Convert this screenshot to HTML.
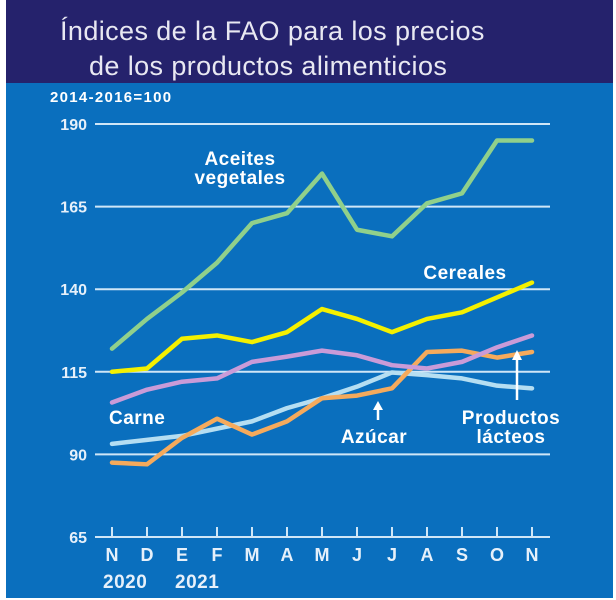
<!DOCTYPE html>
<html><head><meta charset="utf-8"><style>
body{margin:0;background:#fff;}
svg{display:block;font-family:"Liberation Sans",sans-serif;}
</style></head><body>
<svg width="616" height="600" viewBox="0 0 616 600">
<rect x="6" y="0" width="607" height="83" fill="#25226c"/>
<rect x="6" y="83" width="607" height="515" fill="#0a6fbe"/>
<text x="60" y="40" fill="#e8e8f2" font-size="27" letter-spacing="0.4">Índices de la FAO para los precios</text>
<text x="89" y="75" fill="#e8e8f2" font-size="27" letter-spacing="0.4">de los productos alimenticios</text>
<text x="50" y="102" fill="#fff" font-size="15" font-weight="bold" letter-spacing="1.3">2014-2016=100</text>
<g id="grid"></g><g id="lines"></g>
<g fill="#fff" font-size="19" font-weight="bold" letter-spacing="0.5">
<text x="240" y="165" text-anchor="middle">Aceites</text>
<text x="240" y="184" text-anchor="middle">vegetales</text>
<text x="465" y="279" text-anchor="middle">Cereales</text>
<text x="109" y="424">Carne</text>
<text x="374" y="443" text-anchor="middle">Azúcar</text>
<text x="511" y="424" text-anchor="middle">Productos</text>
<text x="511" y="443" text-anchor="middle">lácteos</text>
</g>
<g stroke="#fff" stroke-width="2.5" fill="#fff">
<line x1="378" y1="420" x2="378" y2="408"/><polygon points="373,410 383,410 378,401" stroke="none"/>
<line x1="517" y1="400" x2="517" y2="358"/><polygon points="512,360 522,360 517,350" stroke="none"/>
</g>
</svg>
<script>
const months=["N","D","E","F","M","A","M","J","J","A","S","O","N"];
const yTicks=[65,90,115,140,165,190];
const aceites=[122,131,139,148,160,163,175,158,156,166,169,185,185];
const cereales=[115,116,125,126,124,127,134,131,127,131,133,137.5,142];
const carne=[105.7,109.6,112,113,118,119.6,121.4,120,117,116,118,122.4,126];
const azucar=[87.5,87,95,100.8,96,100,107,107.8,110,121,121.4,119.3,121];
const lacteos=[93.2,94.4,95.6,97.8,100,104,107,110.5,114.8,114,113,110.8,110];
const NS="http://www.w3.org/2000/svg";
const X=i=>112+i*35, Y=v=>537-(v-65)*3.304;
const g=document.getElementById('grid'), L=document.getElementById('lines');
function mk(t,a,p){const e=document.createElementNS(NS,t);for(const k in a)e.setAttribute(k,a[k]);p.appendChild(e);return e;}
yTicks.forEach(v=>{
 const ln=mk('line',{x1:95,x2:550,y1:Y(v),y2:Y(v),stroke:'#cfe6f7','stroke-width':2},g);
 
 
 const t=mk('text',{x:87,y:Y(v)+6,fill:'#e6f0fa','font-size':16,'font-weight':'bold','text-anchor':'end'},g);t.textContent=v;
 
 
});
months.forEach((m,i)=>{
 const tk=mk('line',{x1:X(i),x2:X(i),y1:Y(65)-10,y2:Y(65),stroke:'#cfe6f7','stroke-width':2},g);
 
 
 const t=mk('text',{x:X(i),y:561,fill:'#e6f0fa','font-size':18,'font-weight':'bold','text-anchor':'middle'},g);t.textContent=m;
 
 
});
[["2020",103],["2021",175]].forEach(([s,x])=>{const t=mk('text',{x:x,y:588,fill:'#e6f0fa','font-size':19,'font-weight':'bold','letter-spacing':0.5},g);t.textContent=s;
 
 });
[[lacteos,'#b5def2','lacteos'],[azucar,'#f5aa5c','azucar'],[carne,'#c99bd8','carne'],[cereales,'#f4f000','cereales'],[aceites,'#90d08b','aceites']].forEach(([d,c,n])=>{
 const p=mk('polyline',{points:d.map((v,i)=>X(i)+','+Y(v)).join(' '),fill:'none',stroke:c,'stroke-width':4.5,'stroke-linejoin':'round','stroke-linecap':'round'},L);
 
 
});
</script>
</body></html>
